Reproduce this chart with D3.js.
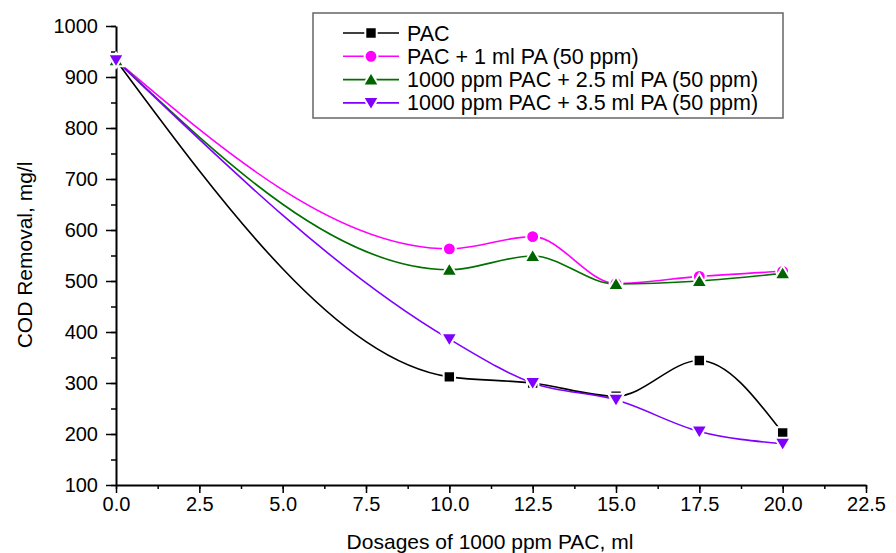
<!DOCTYPE html>
<html>
<head>
<meta charset="utf-8">
<script src="https://cdnjs.cloudflare.com/ajax/libs/d3/7.8.5/d3.min.js"></script>
<style>
  body { margin: 0; background: #fff; }
  text { font-family: "Liberation Sans", Arial, sans-serif; }
</style>
</head>
<body>
<div id="graph"></div>
<script>

// data
var dosages = [0, 10, 12.5, 15, 17.5, 20];
var seriesNames = ["PAC", "PAC + 1 ml PA (50 ppm)", "1000 ppm PAC + 2.5 ml PA (50 ppm)", "1000 ppm PAC + 3.5 ml PA (50 ppm)"];
var pac      = [933, 312, 300, 274, 344, 202];
var pac1pa   = [933, 563, 587, 495, 509, 519];
var pac25pa  = [933, 522, 549, 494, 500, 515];
var pac35pa  = [933, 386, 300, 267, 205, 181];
var xTicks = [0, 2.5, 5, 7.5, 10, 12.5, 15, 17.5, 20, 22.5];
var yTicks = [100, 200, 300, 400, 500, 600, 700, 800, 900, 1000];

var colors  = ["#000000", "#ff00ff", "#006400", "#7f00ff"];
var symbols = ["square", "circle", "up", "down"];
var allValues = [pac, pac1pa, pac25pa, pac35pa];

// set the dimensions and margins of the graph
var margin = {top: 26, right: 30, bottom: 68, left: 116},
    width = 896 - margin.left - margin.right,
    height = 553 - margin.top - margin.bottom;

var svg = d3.select("#graph")
  .append("svg")
    .attr("width", 896)
    .attr("height", 553)
  .append("g")
    .attr("transform", "translate(" + margin.left + "," + margin.top + ")");

var x = d3.scaleLinear().domain([0, 22.5]).range([0, 750]);
var y = d3.scaleLinear().domain([100, 1000]).range([height, 0]);

// minor ticks first
svg.append("g")
  .attr("transform", "translate(0," + height + ")")
  .call(d3.axisBottom(x).tickValues(d3.range(0, 22.6, 1.25)).tickSize(4).tickFormat(""))
  .call(function(g){ g.select(".domain").remove(); g.selectAll("line").attr("stroke-width", 1.5); });
svg.append("g")
  .call(d3.axisLeft(y).tickValues(d3.range(100, 1001, 50)).tickSize(5).tickFormat(""))
  .call(function(g){ g.select(".domain").remove(); g.selectAll("line").attr("stroke-width", 1.5); });

// X axis
svg.append("g")
  .attr("transform", "translate(0," + height + ")")
  .call(d3.axisBottom(x).tickValues(xTicks).tickSize(8).tickPadding(4).tickSizeOuter(0).tickFormat(d3.format(".1f")))
  .call(function(g){
    g.select(".domain").attr("stroke-width", 2);
    g.selectAll("line").attr("stroke-width", 1.5);
    g.selectAll("text").attr("font-size", 20).attr("fill", "#000")
      .attr("font-family", "Liberation Sans, Arial, sans-serif");
  });

// Y axis
svg.append("g")
  .call(d3.axisLeft(y).tickValues(yTicks).tickSize(10).tickPadding(8).tickSizeOuter(0).tickFormat(d3.format("d")))
  .call(function(g){
    g.select(".domain").attr("stroke-width", 2);
    g.selectAll("line").attr("stroke-width", 1.5);
    g.selectAll("text").attr("font-size", 20).attr("fill", "#000")
      .attr("font-family", "Liberation Sans, Arial, sans-serif");
  });

// axis labels
svg.append("text")
  .attr("text-anchor", "middle")
  .attr("x", 490 - margin.left)
  .attr("y", 549 - margin.top)
  .attr("font-size", 21)
  .text("Dosages of 1000 ppm PAC, ml");

svg.append("text")
  .attr("text-anchor", "middle")
  .attr("transform", "translate(" + (32 - margin.left) + "," + (255 - margin.top) + ") rotate(-90)")
  .attr("font-size", 21)
  .text("COD Removal, mg/l");

function symbolPath(kind) {
  if (kind == "square") return d3.symbol().type(d3.symbolSquare).size(130)();
  if (kind == "circle") return d3.symbol().type(d3.symbolCircle).size(130)();
  if (kind == "up") return "M0,-7.5L8,6L-8,6Z";
  return "M0,7.5L8,-6L-8,-6Z";
}

var line = d3.line()
  .curve(d3.curveMonotoneX)
  .x(function(d, i) { return x(dosages[i]); })
  .y(function(d) { return y(d); });

allValues.forEach(function(vals, k){
  svg.append("path")
    .datum(vals)
    .attr("fill", "none")
    .attr("stroke", k == 2 ? "#007000" : colors[k])
    .attr("stroke-width", 1.6)
    .attr("d", line);
});

allValues.forEach(function(vals, k){
  svg.append("g").selectAll("path")
    .data(vals)
    .enter()
    .append("path")
      .attr("transform", function(d, i){ return "translate(" + x(dosages[i]) + "," + y(d) + ")"; })
      .attr("d", symbolPath(symbols[k]))
      .attr("fill", colors[k])
      .attr("stroke", "#fff")
      .attr("stroke-width", 2);
});

// legend
var legend = svg.append("g").attr("transform", "translate(" + (313 - margin.left) + "," + (13 - margin.top) + ")");
legend.append("rect")
  .attr("width", 470).attr("height", 105)
  .attr("fill", "#fff").attr("stroke", "#666").attr("stroke-width", 1.5);

seriesNames.forEach(function(name, k){
  var row = legend.append("g").attr("transform", "translate(0," + (20 + k * 23.3) + ")");
  row.append("line").attr("x1", 30).attr("x2", 86)
    .attr("stroke", k == 2 ? "#007000" : colors[k]).attr("stroke-width", 1.6);
  row.append("path")
    .attr("transform", "translate(58,0)")
    .attr("d", symbolPath(symbols[k]))
    .attr("fill", colors[k]).attr("stroke", "#fff").attr("stroke-width", 2);
  row.append("text")
    .attr("x", 94).attr("y", 7.5)
    .attr("font-size", 21.5)
    .text(name);
});

</script>
</body>
</html>
